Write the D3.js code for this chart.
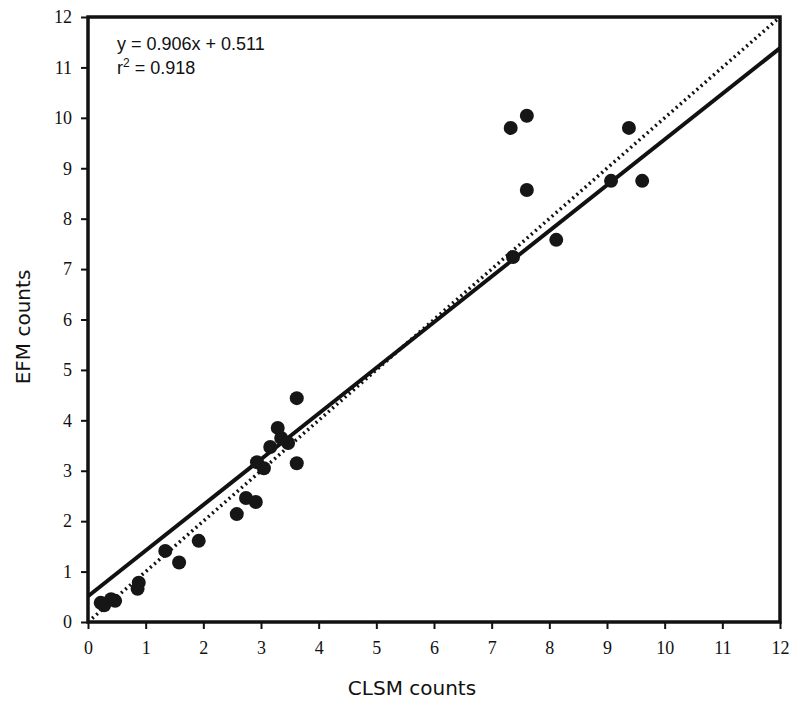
<!DOCTYPE html>
<html>
<head>
<meta charset="utf-8">
<script src="https://cdn.jsdelivr.net/npm/d3@7"></script>
<style>
  body { margin: 0; background: #fff; }
  svg { display: block; }
</style>
</head>
<body>
<svg width="800" height="711"></svg>
<script>
// CLSM counts (x) vs EFM counts (y)
var clsm = [7.33, 7.61, 7.61, 7.37, 8.12, 9.07, 9.38, 9.61,
            3.62, 3.29, 3.16, 3.47, 3.35, 2.93, 3.05, 3.62,
            2.74, 2.91, 2.58, 1.92, 1.34, 1.58,
            0.88, 0.86, 0.22, 0.28, 0.40, 0.47];
var efm = [9.80, 10.04, 8.57, 7.24, 7.58, 8.75, 9.80, 8.75,
           4.44, 3.85, 3.47, 3.55, 3.65, 3.17, 3.05, 3.15,
           2.46, 2.38, 2.14, 1.61, 1.41, 1.18,
           0.78, 0.66, 0.38, 0.33, 0.45, 0.42];
var xTicks = d3.range(0, 13);
var yTicks = d3.range(0, 13);
var slope = 0.906, intercept = 0.511;
var equation = ["y = 0.906x + 0.511", "r", "2", " = 0.918"];

var svg = d3.select("svg");
var x = d3.scaleLinear().domain([0, 12]).range([88, 780]);
var y = d3.scaleLinear().domain([0, 12]).range([622, 17]);

var data = clsm.map(function(d, i) { return { x: d, y: efm[i] }; });

// 1:1 dotted line
svg.append("line")
    .attr("x1", x(0)).attr("y1", y(0))
    .attr("x2", x(12)).attr("y2", y(12))
    .attr("stroke", "#111")
    .attr("stroke-width", 3.5)
    .attr("stroke-dasharray", "2,3.5");

// regression line
svg.append("line")
    .attr("x1", x(0)).attr("y1", y(intercept))
    .attr("x2", x(12)).attr("y2", y(slope * 12 + intercept))
    .attr("stroke", "#111")
    .attr("stroke-width", 4);

svg.append("g")
  .selectAll("circle")
  .data(data)
  .enter().append("circle")
    .attr("cx", function(d) { return x(d.x); })
    .attr("cy", function(d) { return y(d.y); })
    .attr("r", 7)
    .attr("fill", "#161616");

// axes
var xAxis = svg.append("g")
    .attr("transform", "translate(0," + y(0) + ")")
    .call(d3.axisBottom(x).tickValues(xTicks).tickSize(7).tickPadding(12).tickSizeOuter(0));
var yAxis = svg.append("g")
    .attr("transform", "translate(" + x(0) + ",0)")
    .call(d3.axisLeft(y).tickValues(yTicks).tickSize(7).tickPadding(9).tickSizeOuter(0));

[xAxis, yAxis].forEach(function(g) {
  g.select(".domain").remove();
  g.selectAll(".tick line").attr("stroke", "#111").attr("stroke-width", 2);
  g.selectAll(".tick text")
    .attr("fill", "#111")
    .style("font-family", "'Liberation Serif', 'Times New Roman', serif")
    .style("font-size", "18px");
});

// frame
svg.append("rect")
    .attr("x", x(0)).attr("y", y(12))
    .attr("width", x(12) - x(0)).attr("height", y(0) - y(12))
    .attr("fill", "none")
    .attr("stroke", "#111")
    .attr("stroke-width", 3.5);

// equation
var eq = svg.append("g")
    .style("font-family", "'Liberation Sans', Arial, sans-serif")
    .style("font-size", "18px")
    .attr("fill", "#111");
eq.append("text").attr("x", 117).attr("y", 50).text(equation[0]);
var t2 = eq.append("text").attr("x", 117).attr("y", 74);
t2.append("tspan").text(equation[1]);
t2.append("tspan").attr("dy", -7).style("font-size", "12px").text(equation[2]);
t2.append("tspan").attr("dy", 7).text(equation[3]);

// axis titles
svg.append("text")
    .attr("x", 412).attr("y", 695)
    .attr("text-anchor", "middle")
    .style("font-family", "'DejaVu Sans', 'Noto Sans', sans-serif")
    .style("font-size", "20px")
    .attr("fill", "#111")
    .text("CLSM counts");
svg.append("text")
    .attr("transform", "translate(30,327) rotate(-90)")
    .attr("text-anchor", "middle")
    .style("font-family", "'DejaVu Sans', 'Noto Sans', sans-serif")
    .style("font-size", "20px")
    .attr("fill", "#111")
    .text("EFM counts");
</script>
</body>
</html>
